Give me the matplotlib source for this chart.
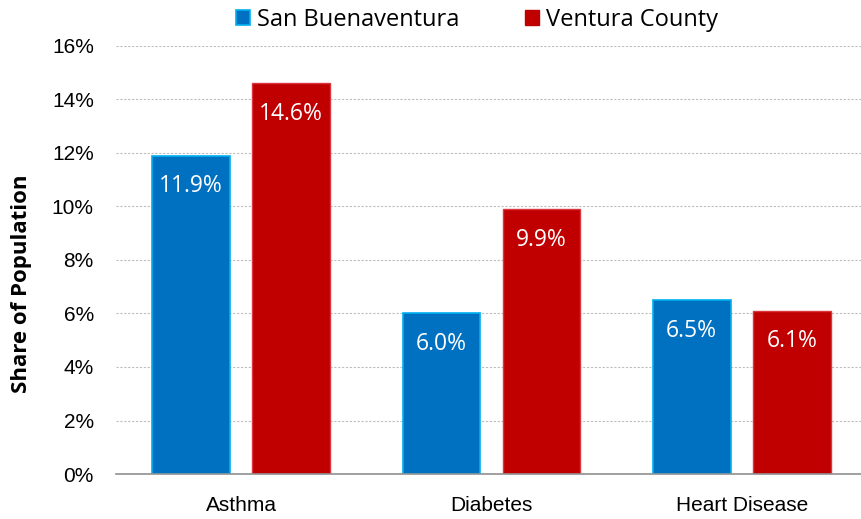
import matplotlib
matplotlib.use('Agg')
import matplotlib.pyplot as plt
from matplotlib.patches import Patch
import numpy as np

categories = ['Asthma', 'Diabetes', 'Heart Disease']
san_buenaventura = [11.9, 6.0, 6.5]
ventura_county = [14.6, 9.9, 6.1]
yticks = [0, 2, 4, 6, 8, 10, 12, 14, 16]

axisfont = ['Liberation Sans', 'DejaVu Sans']
body = ['Open Sans', 'DejaVu Sans']

fig = plt.figure(figsize=(8.61, 5.19), dpi=100)
ax = fig.add_axes([0.1347, 0.0867, 0.8722, 0.8247])

x = np.arange(len(categories))
w = 0.31
b1 = ax.bar(x - 0.2, san_buenaventura, w, color='#0070C0', edgecolor='#00B0F0', linewidth=1.2, zorder=3)
b2 = ax.bar(x + 0.2, ventura_county, w, color='#C00000', edgecolor='#D9363E', linewidth=1.0, zorder=3)

# value labels sit inside the top of each bar
for bars, vals in ((b1, san_buenaventura), (b2, ventura_county)):
    for r, v in zip(bars, vals):
        ax.annotate(f'{v:.1f}%', (r.get_x() + r.get_width() / 2, v),
                    xytext=(0, -22), textcoords='offset points',
                    ha='center', va='center', color='white', fontsize=16.5, family=body, zorder=4)

ax.set_xlim(-0.5, 2.5)
ax.set_ylim(0, 16)
ax.set_yticks(yticks)
ax.set_yticklabels([f'{t}%' for t in yticks], family=axisfont, fontsize=15)
ax.set_xticks(x)
ax.set_xticklabels(categories, family=axisfont, fontsize=15)
ax.tick_params(axis='y', length=0, pad=16)
ax.tick_params(axis='x', length=0, pad=16)
ax.yaxis.grid(True, linestyle=(0, (2, 1.5)), color='#bdbdbd', linewidth=0.8, zorder=0)
for s in ('top', 'right', 'left'):
    ax.spines[s].set_visible(False)
ax.spines['bottom'].set_color('#909090')
ax.spines['bottom'].set_linewidth(1.2)
ax.spines['bottom'].set_zorder(5)

fig.text(0.025, 0.453, 'Share of Population', rotation=90, ha='center', va='center',
         fontsize=16, fontweight='bold', family=body)

handles = [Patch(facecolor='#0070C0', edgecolor='#00B0F0', linewidth=1.2),
           Patch(facecolor='#C00000', edgecolor='#C00000')]
fig.legend(handles, ['San Buenaventura', 'Ventura County'], loc='center',
           bbox_to_anchor=(0.554, 0.961), ncol=2, frameon=False,
           prop={'family': body, 'size': 17}, handlelength=0.6, handleheight=0.6,
           handletextpad=0.3, columnspacing=2.8)

fig.savefig('out.png', dpi=100)
